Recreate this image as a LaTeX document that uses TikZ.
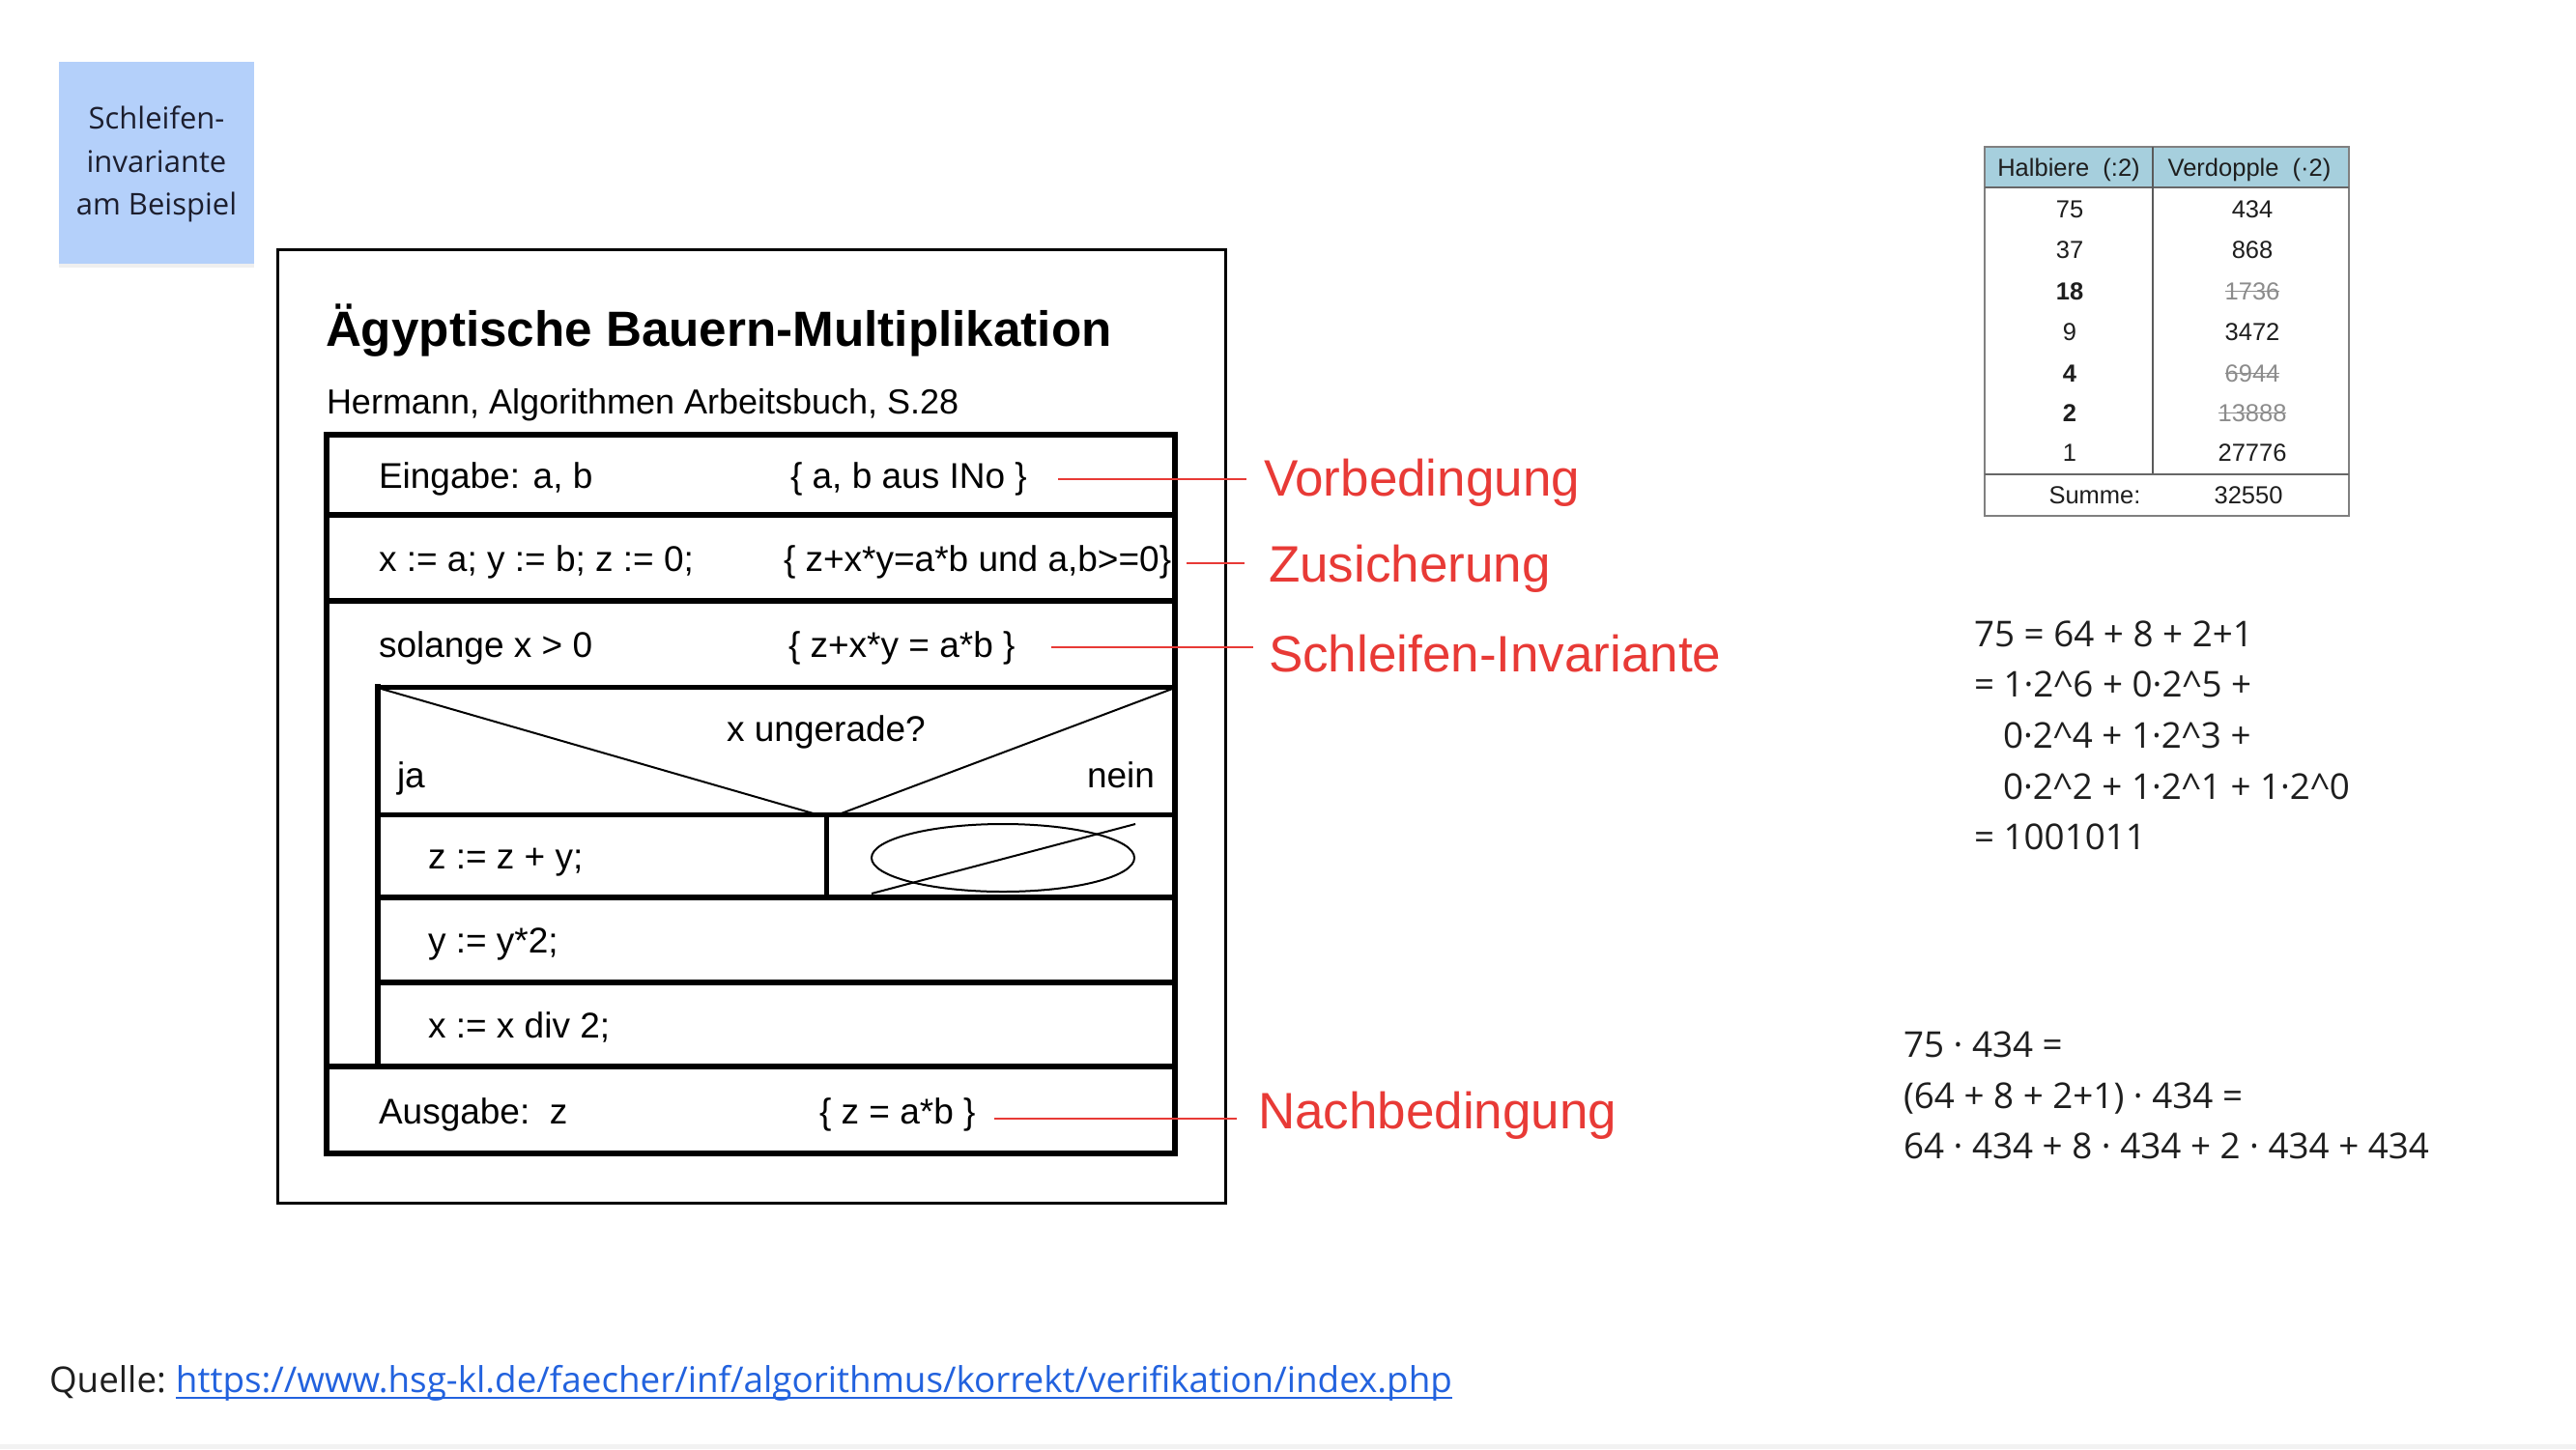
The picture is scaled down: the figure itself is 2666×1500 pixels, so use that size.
\documentclass[tikz,border=0pt]{standalone}
\usepackage{fontspec}
\setmainfont{Open Sans}
\newfontfamily\arialfont{Liberation Sans}
\usetikzlibrary{calc,shadows}

\definecolor{noteblue}{RGB}{180,208,250}
\definecolor{notetext}{RGB}{28,30,46}
\definecolor{markred}{RGB}{232,58,54}
\definecolor{headblue}{RGB}{166,207,221}
\definecolor{linkblue}{RGB}{34,98,222}
\definecolor{inkgray}{RGB}{30,30,30}
\definecolor{tabgray}{RGB}{128,128,128}
\definecolor{strikegray}{RGB}{140,140,140}

\tikzset{
  every node/.style={inner sep=0pt, outer sep=0pt},
  nstext/.style={font=\arialfont\fontsize{37}{44}\selectfont, anchor=base west},
  nsline/.style={line width=6pt, line cap=rect},
  nsmid/.style={line width=5pt, line cap=rect},
  thinline/.style={line width=2pt},
  marker/.style={draw=markred, line width=2.4pt},
  marklabel/.style={font=\arialfont\fontsize{53}{62}\selectfont, text=markred, anchor=base west},
  tabtext/.style={font=\arialfont\fontsize{25.5}{30}\selectfont, text=inkgray, anchor=base},
  tabbold/.style={tabtext, font=\arialfont\bfseries\fontsize{25.5}{30}\selectfont},
  tabstrike/.style={tabtext, text=strikegray},
  mathtext/.style={font=\fontsize{36.8}{44}\selectfont, text=inkgray, anchor=base west},
  notetxt/.style={font=\fontsize{31}{40}\selectfont, text=notetext, anchor=base},
}

\begin{document}
\begin{tikzpicture}[x=1pt, y=-1pt]
  % canvas
  \fill[white] (0,0) rectangle (2666,1500);
  \fill[black!5] (0,1495) rectangle (2666,1500);
  \useasboundingbox (0,0) rectangle (2666,1500);

  % sticky note
  \node[fill=noteblue, minimum width=202pt, minimum height=209pt,
        drop shadow={shadow xshift=0pt, shadow yshift=-4pt, opacity=0.12}]
        (note) at (162,168.5) {};
  \node[notetxt] (n1) at (162,133) {Schleifen-};
  \node[notetxt] (n2) at (162,178) {invariante};
  \node[notetxt] (n3) at (162,222) {am Beispiel};

  % frame around the Struktogramm
  \draw[line width=3pt] (287,258) rectangle (1268,1245);
  \node[font=\arialfont\bfseries\fontsize{51.2}{60}\selectfont, anchor=base west]
        (title) at (337,358) {Ägyptische Bauern-Multiplikation};
  \node[nstext, font=\arialfont\fontsize{36}{44}\selectfont]
        (src) at (338,428) {Hermann, Algorithmen Arbeitsbuch, S.28};

  % Struktogramm blocks
  \draw[nsline] (338,450) rectangle (1216,1194);
  \draw[nsline] (338,533) -- (1216,533);
  \draw[nsline] (338,622) -- (1216,622);
  \draw[nsmid] (391,711) -- (1216,711);
  \draw[nsmid] (391,843) -- (1216,843);
  \draw[nsline] (391,929) -- (1216,929);
  \draw[nsline] (391,1017) -- (1216,1017);
  \draw[nsline] (338,1104) -- (1216,1104);
  \draw[nsline] (391,711) -- (391,1104);
  \draw[nsmid] (855,843) -- (855,929);
  % decision triangle
  \draw[thinline] (391,712) -- (845,843);
  \draw[thinline] (868,843) -- (1216,712);
  % empty branch
  \draw[thinline] (1038,888) ellipse [x radius=136, y radius=35];
  \draw[thinline] (902,925) -- (1175,853);

  % texts in the blocks
  \node[nstext] (in)   at (392,505) {Eingabe: a, b};
  \node[nstext] (pre)  at (818,505) {\{ a, b aus INo \}};
  \node[nstext] (init) at (392,591) {x := a; y := b; z := 0;};
  \node[nstext] (ass)  at (811,591) {\{ z+x*y=a*b und a,b>=0\}};
  \node[nstext] (loop) at (392,680) {solange x > 0};
  \node[nstext] (inv)  at (816,680) {\{ z+x*y = a*b \}};
  \node[nstext, anchor=base] (cond) at (855,767) {x ungerade?};
  \node[nstext] (yes)  at (411,815) {ja};
  \node[nstext, anchor=base east] (no) at (1195,815) {nein};
  \node[nstext] (s1)   at (443,899) {z := z + y;};
  \node[nstext] (s2)   at (443,986) {y := y*2;};
  \node[nstext] (s3)   at (443,1074) {x := x div 2;};
  \node[nstext] (out)  at (392,1163) {Ausgabe:~~z};
  \node[nstext] (post) at (848,1163) {\{ z = a*b \}};

  % red annotations
  \node[marklabel] (lvor) at (1308,513) {Vorbedingung};
  \node[marklabel] (lzus) at (1313,602) {Zusicherung};
  \node[marklabel] (linv) at (1313,695) {Schleifen-Invariante};
  \node[marklabel] (lnach) at (1302,1168) {Nachbedingung};
  \coordinate (cvor) at (1095,496);
  \coordinate (czus) at (1228,583);
  \coordinate (cinv) at (1088,670);
  \coordinate (cnach) at (1029,1158);
  \draw[marker] (cvor) -- (1290,496);
  \draw[marker] (czus) -- (1288,583);
  \draw[marker] (cinv) -- (1297,670);
  \draw[marker] (cnach) -- (1280,1158);

  % table
  \fill[headblue] (2054,152) rectangle (2431,194);
  \draw[tabgray, line width=1.6pt] (2054,152) rectangle (2431,534);
  \draw[tabgray!80!black, line width=1.6pt] (2054,194) -- (2431,194);
  \draw[tabgray!70!black, line width=1.6pt] (2228,152) -- (2228,491);
  \draw[tabgray!80!black, line width=1.6pt] (2054,491) -- (2431,491);
  \node[tabtext] (h1) at (2141,182) {Halbiere~~(:2)};
  \node[tabtext] (h2) at (2328,182) {Verdopple~~(·2)};
  \node[tabtext] (a1) at (2142,225) {75};
  \node[tabtext] (a2) at (2142,267) {37};
  \node[tabbold] (a3) at (2142,310) {18};
  \node[tabtext] (a4) at (2142,352) {9};
  \node[tabbold] (a5) at (2142,395) {4};
  \node[tabbold] (a6) at (2142,436) {2};
  \node[tabtext] (a7) at (2142,477) {1};
  \node[tabtext] (b1) at (2331,225) {434};
  \node[tabtext] (b2) at (2331,267) {868};
  \node[tabstrike] (b3) at (2331,310) {1736};
  \node[tabtext] (b4) at (2331,352) {3472};
  \node[tabstrike] (b5) at (2331,395) {6944};
  \node[tabstrike] (b6) at (2331,436) {13888};
  \node[tabtext] (b7) at (2331,477) {27776};
  \foreach \n in {b3,b5,b6}
    \draw[strikegray, line width=1.4pt] (\n.west) -- (\n.east);
  \node[tabtext] (sumlab) at (2168,521) {Summe:};
  \node[tabtext] (sumval) at (2327,521) {32550};

  % binary decomposition
  \node[mathtext] (m1) at (2043,669) {75 = 64 + 8 + 2+1};
  \node[mathtext] (m2) at (2043,721) {= 1·2\textasciicircum6 + 0·2\textasciicircum5 +};
  \node[mathtext] (m3) at (2073,774) {0·2\textasciicircum4 + 1·2\textasciicircum3 +};
  \node[mathtext] (m4) at (2073,827) {0·2\textasciicircum2 + 1·2\textasciicircum1 + 1·2\textasciicircum0};
  \node[mathtext] (m5) at (2043,879) {= 1001011};

  \node[mathtext] (p1) at (1970,1094) {75 · 434 =};
  \node[mathtext] (p2) at (1970,1147) {(64 + 8 + 2+1) · 434 =};
  \node[mathtext] (p3) at (1970,1199) {64 · 434 + 8 · 434 + 2 · 434 + 434};

  % source
  \node[mathtext] (quelle) at (51,1441) {Quelle:};
  \node[mathtext, text=linkblue] (url) at ($(quelle.base east)+(10,0)$)
        {https://www.hsg-kl.de/faecher/inf/algorithmus/korrekt/verifikation/index.php};
  \draw[linkblue, line width=2.5pt] ($(url.base west)+(0,6)$) -- ($(url.base east)+(0,6)$);
\end{tikzpicture}
\end{document}
